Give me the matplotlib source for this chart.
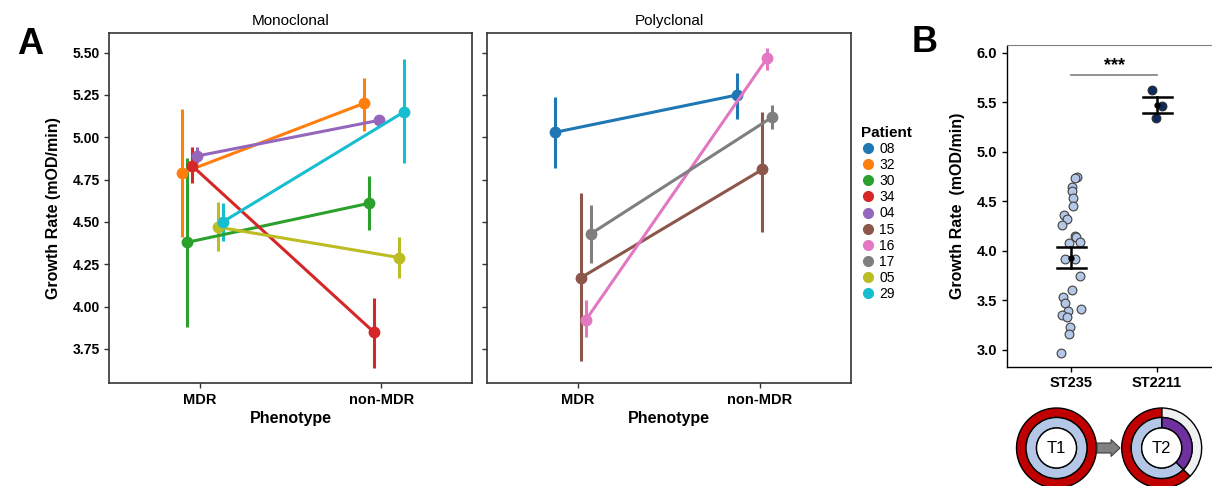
import numpy as np
import matplotlib
matplotlib.use("Agg")
import matplotlib.pyplot as plt
from matplotlib.patches import Wedge, Circle, FancyArrow
from matplotlib.lines import Line2D

plt.rcParams['font.family'] = ['Liberation Sans', 'DejaVu Sans']

# ---------------- data ----------------
phenotypes = ["MDR", "non-MDR"]
patients = ["08", "32", "30", "34", "04", "15", "16", "17", "05", "29"]
patient_colors = ["#1f77b4", "#ff7f0e", "#2ca02c", "#d62728", "#9467bd",
                  "#8c564b", "#e377c2", "#7f7f7f", "#bcbd22", "#17becf"]

mono_patients = ["32", "30", "34", "04", "05", "29"]
mono_mean = [[4.79, 5.20], [4.38, 4.61], [4.83, 3.85], [4.89, 5.10], [4.47, 4.29], [4.50, 5.15]]
mono_low = [[4.41, 5.04], [3.88, 4.45], [4.73, 3.64], [4.85, 5.08], [4.33, 4.17], [4.39, 4.85]]
mono_high = [[5.17, 5.35], [4.88, 4.77], [4.94, 4.05], [4.94, 5.12], [4.62, 4.41], [4.61, 5.46]]

poly_patients = ["08", "15", "16", "17"]
poly_mean = [[5.03, 5.25], [4.17, 4.81], [3.92, 5.47], [4.43, 5.12]]
poly_low = [[4.82, 5.11], [3.68, 4.44], [3.82, 5.40], [4.26, 5.05]]
poly_high = [[5.24, 5.38], [4.67, 5.15], [4.04, 5.53], [4.60, 5.19]]

st_labels = ["ST235", "ST2211"]
st235_values = [4.74, 4.73, 4.64, 4.60, 4.535, 4.455, 4.36, 4.32, 4.26, 4.15, 4.14,
                4.084, 4.074, 3.92, 3.916, 3.74, 3.60, 3.53, 3.47, 3.39, 3.35, 3.33,
                3.23, 3.16, 3.41, 2.97]
st2211_values = [5.62, 5.46, 5.34]
# strip-plot jitter (layout only)
st235_jitter = [0.07, 0.039, 0.012, 0.008, 0.019, 0.019, -0.086, -0.047, -0.105, 0.039,
                0.058, 0.097, -0.027, -0.07, 0.043, 0.105, 0.012, -0.097, -0.066,
                -0.039, -0.109, -0.051, -0.008, -0.023, 0.117, -0.12]
st2211_jitter = [-0.054, 0.062, -0.016]
sig_label = "***"
sig_height = 5.77

# donut composition fractions (outer ring, inner ring)
t1_outer = [1.0]
t1_inner = [1.0]
t2_outer = [0.375, 0.625]   # grey, red
t2_inner = [0.375, 0.625]   # purple, light blue

# ---------------- figure ----------------
W, H = 1212, 486
fig = plt.figure(figsize=(W / 100, H / 100), dpi=100)

def frac(x0, y0, x1, y1):
    return [x0 / W, 1 - y1 / H, (x1 - x0) / W, (y1 - y0) / H]

axL = fig.add_axes(frac(109.3, 33, 472, 383))
axR = fig.add_axes(frac(487.3, 33, 850.7, 383), sharey=axL)

n_hue = len(patients)
dodge = 0.25
offsets = np.linspace(-dodge / 2, dodge / 2, n_hue)
xcat = np.arange(len(phenotypes))

def draw_points(ax, pats, means, lows, highs):
    for p, m, lo, hi in zip(pats, means, lows, highs):
        i = patients.index(p)
        c = patient_colors[i]
        x = xcat + offsets[i]
        m = np.array(m); lo = np.array(lo); hi = np.array(hi)
        ax.errorbar(x, m, yerr=[m - lo, hi - m], color=c, lw=2.2, elinewidth=2.2,
                    marker='o', markersize=7.5, capsize=0)

draw_points(axL, mono_patients, mono_mean, mono_low, mono_high)
draw_points(axR, poly_patients, poly_mean, poly_low, poly_high)

for ax, title in [(axL, "Monoclonal"), (axR, "Polyclonal")]:
    ax.set_xlim(-0.5, 1.5)
    ax.set_xticks(xcat)
    ax.set_xticklabels(phenotypes, fontweight='bold', fontsize=10.5)
    ax.set_xlabel("Phenotype", fontweight='bold', fontsize=11.5, labelpad=3)
    ax.set_title(title, fontsize=11, pad=6)
    for s in ax.spines.values():
        s.set_color('#333333')
        s.set_linewidth(1.2)
    ax.tick_params(length=3.5, width=1, color='#333333')

axL.set_ylim(3.549, 5.616)
axL.set_yticks([3.75, 4.00, 4.25, 4.50, 4.75, 5.00, 5.25, 5.50])
axL.set_yticklabels([f"{v:.2f}" for v in axL.get_yticks()], fontweight='bold', fontsize=10)
axL.set_ylabel("Growth Rate (mOD/min)", fontweight='bold', fontsize=11.5, labelpad=8)
plt.setp(axR.get_yticklabels(), visible=False)

handles = [Line2D([], [], marker='o', color=patient_colors[i], lw=0, markersize=7)
           for i in range(n_hue)]
leg = fig.legend(handles, patients, title="Patient", loc='upper left',
                 bbox_to_anchor=(861 / W, 1 - 126 / H), frameon=False, fontsize=10,
                 title_fontproperties={'weight': 'bold', 'size': 11},
                 labelspacing=0.15, handletextpad=0.3, handlelength=1.0,
                 borderaxespad=0, borderpad=0)
leg._legend_box.align = "left"

# ---------------- panel B ----------------
axB = fig.add_axes(frac(1006.7, 45.5, 1221.6, 366.7))
xb = np.arange(len(st_labels))
axB.scatter(xb[0] + np.array(st235_jitter), st235_values, s=40, color='#b4c7e7',
            edgecolor='#404040', linewidth=0.8, zorder=3)
axB.scatter(xb[1] + np.array(st2211_jitter), st2211_values, s=40, color='#0b2a5e',
            edgecolor='#303030', linewidth=0.8, zorder=3)
for x, vals in zip(xb, [st235_values, st2211_values]):
    v = np.array(vals)
    mean = v.mean()
    sem = v.std(ddof=1) / np.sqrt(len(v))
    axB.plot([x, x], [mean - sem, mean + sem], color='black', lw=1.8, zorder=4)
    for yy in (mean - sem, mean + sem):
        axB.plot([x - 0.17, x + 0.17], [yy, yy], color='black', lw=1.8, zorder=4)
    axB.plot([x], [mean], 'o', color='black', markersize=3.5, zorder=5)

axB.plot([xb[0], xb[1]], [sig_height, sig_height], color='#7f7f7f', lw=1.2)
axB.text((xb[0] + xb[1]) / 2, sig_height + 0.01, sig_label, ha='center', va='bottom',
         fontsize=13, fontweight='bold')
axB.set_xlim(-0.75, 1.75)
axB.set_ylim(2.828, 6.073)
axB.set_xticks(xb)
axB.set_xticklabels(st_labels, fontweight='bold', fontsize=10.5)
axB.set_yticks([3.0, 3.5, 4.0, 4.5, 5.0, 5.5, 6.0])
axB.set_yticklabels([f"{v:.1f}" for v in axB.get_yticks()], fontweight='bold', fontsize=10.5)
axB.set_ylabel("Growth Rate  (mOD/min)", fontweight='bold', fontsize=11.5, labelpad=8)
axB.spines['right'].set_visible(False)
axB.spines['top'].set_color('#808080')
axB.spines['top'].set_linewidth(0.8)
axB.spines['left'].set_linewidth(1.0)
axB.spines['bottom'].set_linewidth(1.0)
axB.tick_params(length=3.5, width=1)

# panel letters
fig.text(30 / W, 1 - 45 / H, "A", fontsize=26, fontweight='bold', va='center', ha='center')
fig.text(925 / W, 1 - 43 / H, "B", fontsize=26, fontweight='bold', va='center', ha='center')

# ---------------- donuts ----------------
axD = fig.add_axes([0, 0, 1, 1], zorder=-1)
axD.set_xlim(0, W)
axD.set_ylim(0, H)
axD.axis('off')

RED, LBLUE, PURPLE, GREY = '#c00000', '#b4c7e7', '#7030a0', '#f0f0f0'

def ring(cx, cy, r_out, width, fracs, colors):
    start = 90.0
    # fracs go clockwise from 12 o'clock
    for f, c in zip(fracs, colors):
        end = start - 360 * f
        axD.add_patch(Wedge((cx, cy), r_out, end, start, width=width, facecolor=c,
                            edgecolor='black', lw=1.0))
        start = end

def donut(cx, cy, outer, outer_cols, inner, inner_cols, label):
    ring(cx, cy, 40, 9.5, outer, outer_cols)
    ring(cx, cy, 30.5, 10.5, inner, inner_cols)
    axD.add_patch(Circle((cx, cy), 20, facecolor='white', edgecolor='black', lw=1.0))
    axD.text(cx, cy, label, ha='center', va='center', fontsize=12)

cy = H - 448
donut(1056.5, cy, t1_outer, [RED], t1_inner, [LBLUE], "T1")
donut(1161.7, cy, t2_outer, [GREY, RED], t2_inner, [PURPLE, LBLUE], "T2")
axD.add_patch(FancyArrow(1097, cy, 14, 0, width=10, head_width=17, head_length=9,
                         length_includes_head=False, facecolor='#808080',
                         edgecolor='#404040', lw=0.8))

fig.savefig("out.png", dpi=100)
